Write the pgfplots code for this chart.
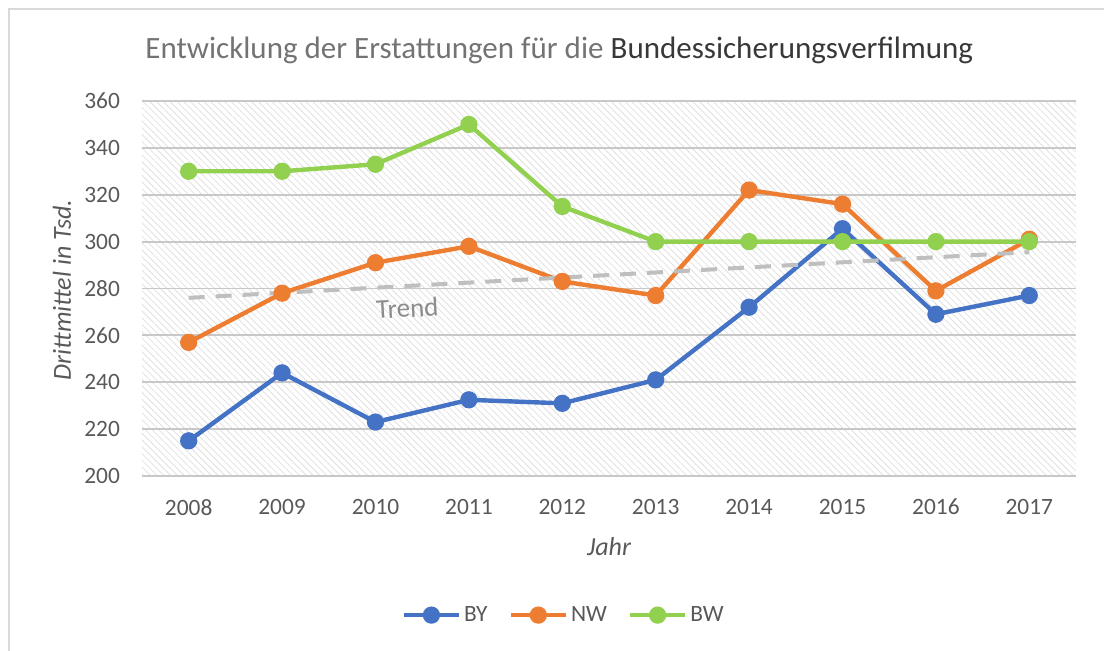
\documentclass[border=0pt]{standalone}
\usepackage{fontspec}
\setmainfont{Carlito}
\usepackage{pgfplots}
\pgfplotsset{compat=1.18}
\usetikzlibrary{patterns.meta}
\definecolor{cBY}{HTML}{4472C4}
\definecolor{cNW}{HTML}{ED7D31}
\definecolor{cBW}{HTML}{92D050}
\definecolor{txt}{HTML}{595959}
\definecolor{gridc}{HTML}{C8C8C8}
\definecolor{hatch}{HTML}{E0E0E0}
\definecolor{trendc}{HTML}{BFBFBF}
\definecolor{frame}{HTML}{D9D9D9}
\begin{document}
\begin{tikzpicture}
\useasboundingbox (0,0) rectangle (552pt,325.5pt);
\draw[color=frame, line width=0.8pt] (4.5pt,0) -- (4.5pt,321pt) -- (552pt,321pt);
\node[anchor=base west, inner sep=0pt, font=\fontsize{15.5}{18}\selectfont] at (72.5pt,296pt)
  {\textcolor{black!55}{Entwicklung der Erstattungen für die }\textcolor{black!78}{Bundessicherungsverfilmung}};
\begin{axis}[
  at={(71pt,87.5pt)}, anchor=south west,
  width=467pt, height=187.5pt, scale only axis,
  xmin=-0.5, xmax=9.5, ymin=200, ymax=360,
  xtick={0,1,2,3,4,5,6,7,8,9},
  xticklabels={2008,2009,2010,2011,2012,2013,2014,2015,2016,2017},
  ytick={200,220,240,260,280,300,320,340,360},
  /pgf/number format/assume math mode=true,
  axis line style={draw=none},
  tick style={draw=none},
  major tick length=0pt,
  ymajorgrids,
  major grid style={gridc, line width=0.9pt},
  axis background/.style={pattern={Lines[angle=-45,distance=2.4pt,line width=0.4pt]}, pattern color=hatch},
  tick label style={font=\fontsize{11.7}{14}\selectfont, text=txt},
  yticklabel style={anchor=east, xshift=-7.5pt},
  xticklabel style={anchor=north, yshift=-8pt},
  xlabel={Jahr}, ylabel={Drittmittel in Tsd.},
  label style={font=\fontsize{13}{15}\itshape, text=txt},
  xlabel style={at={(axis description cs:0.5,-0.189)}, anchor=center},
  ylabel style={at={(axis description cs:-0.0857,0.496)}, anchor=center, rotate=0},
  legend style={at={(axis description cs:0.452,-0.371)}, anchor=center, draw=none, fill=none,
    font=\fontsize{11.7}{14}\selectfont, text=txt,
    /tikz/every even column/.append style={column sep=9pt},
    nodes={inner sep=1.5pt}},
  legend columns=3,
  legend image code/.code={\draw[mark repeat=2,mark phase=2] plot coordinates {(0pt,0pt) (13.75pt,0pt) (27.5pt,0pt)};},
]
\addplot[cBY, line width=2.2pt, mark=*, mark size=3.2pt, mark options={solid}] coordinates {
 (0,215) (1,244) (2,223) (3,232.5) (4,231) (5,241) (6,272) (7,305.5) (8,269) (9,277)};
\addlegendentry{BY}
\addplot[cNW, line width=2.2pt, mark=*, mark size=3.2pt, mark options={solid}] coordinates {
 (0,257) (1,278) (2,291) (3,298) (4,283) (5,277) (6,322) (7,316) (8,279) (9,301)};
\addlegendentry{NW}
\addplot[cBW, line width=2.2pt, mark=*, mark size=3.2pt, mark options={solid}] coordinates {
 (0,330) (1,330) (2,333) (3,350) (4,315) (5,300) (6,300) (7,300) (8,300) (9,300)};
\addlegendentry{BW}
\addplot[trendc, line width=2pt, dash pattern=on 8pt off 5.5pt, forget plot] coordinates {(0,276) (9,295.5)};
\node[text=black!45, font=\fontsize{13.5}{16}\selectfont, rotate=3] at (axis cs:2.34,271.7) {Trend};
\end{axis}
\end{tikzpicture}
\end{document}
